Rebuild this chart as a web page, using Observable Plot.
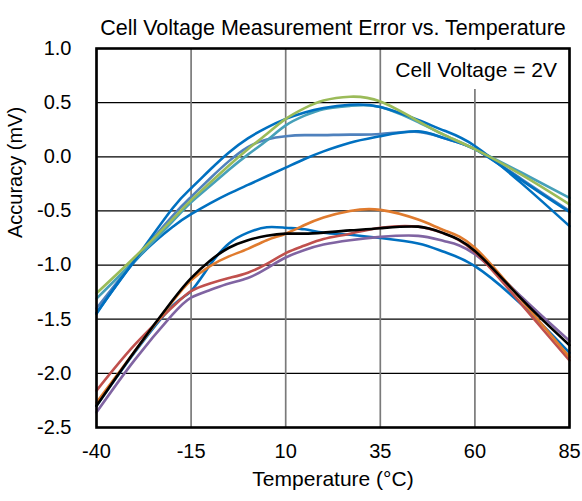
<!DOCTYPE html>
<html>
<head>
<meta charset="utf-8">
<script src="https://cdn.jsdelivr.net/npm/d3@7"></script>
<script src="https://cdn.jsdelivr.net/npm/@observablehq/plot@0.6"></script>
<style>
  body { margin: 0; background: #fff; font-family: "Liberation Sans", Arial, sans-serif; }
  #wrap { position: relative; width: 582px; height: 501px; }
  #note {
    position: absolute; left: 384px; top: 50px; width: 173px; height: 39px;
    padding-right: 10px; background: #fff; text-align: right;
    font-size: 21px; line-height: 39px; color: #000; white-space: nowrap;
  }
</style>
</head>
<body>
<div id="wrap"><div id="note">Cell Voltage = 2V</div></div>
<script>
// Sample temperatures (°C) shared by every curve
const temps = [-40, -30, -20, -15, -10, -5, 0, 5, 10, 15, 20, 27, 35, 45, 52, 60, 72.5, 85];

// Measurement error (mV) per unit — upper group
const unit1 = [-1.40, -0.96, -0.55, -0.37, -0.20, -0.04, 0.09, 0.16, 0.19, 0.20, 0.20, 0.205, 0.21, 0.23, 0.17, 0.07, -0.21, -0.50];
const unit2 = [-1.45, -0.97, -0.65, -0.53, -0.43, -0.34, -0.26, -0.18, -0.10, -0.02, 0.05, 0.13, 0.19, 0.235, 0.17, 0.07, -0.22, -0.51];
const unit3 = [-1.31, -0.96, -0.60, -0.42, -0.27, -0.12, 0.02, 0.15, 0.29, 0.38, 0.44, 0.47, 0.46, 0.32, 0.20, 0.07, -0.15, -0.38];
const unit4 = [-1.44, -0.96, -0.48, -0.29, -0.12, 0.04, 0.17, 0.27, 0.35, 0.41, 0.45, 0.48, 0.46, 0.34, 0.24, 0.10, -0.25, -0.64];
const unit5 = [-1.26, -0.93, -0.58, -0.40, -0.24, -0.08, 0.07, 0.21, 0.35, 0.45, 0.52, 0.555, 0.51, 0.33, 0.20, 0.07, -0.17, -0.44];
// lower group
const unit6 = [-2.30, -1.81, -1.38, -1.24, -1.00, -0.80, -0.70, -0.65, -0.655, -0.67, -0.70, -0.72, -0.75, -0.80, -0.88, -1.01, -1.37, -1.81];
const unit7 = [-2.36, -1.88, -1.46, -1.30, -1.23, -1.17, -1.12, -1.03, -0.93, -0.86, -0.81, -0.77, -0.74, -0.73, -0.78, -0.90, -1.30, -1.70];
const unit8 = [-2.16, -1.74, -1.39, -1.24, -1.17, -1.12, -1.07, -0.99, -0.89, -0.82, -0.76, -0.71, -0.655, -0.645, -0.71, -0.88, -1.37, -1.88];
const unit9 = [-2.27, -1.80, -1.34, -1.14, -1.01, -0.92, -0.85, -0.77, -0.71, -0.63, -0.56, -0.50, -0.49, -0.58, -0.68, -0.84, -1.33, -1.85];
const unit10 = [-2.30, -1.80, -1.33, -1.12, -0.96, -0.84, -0.77, -0.73, -0.71, -0.71, -0.70, -0.68, -0.66, -0.645, -0.71, -0.87, -1.32, -1.74];

// Drawing order: later entries sit on top
const seriesNames = ["Unit 1", "Unit 2", "Unit 3", "Unit 4", "Unit 5", "Unit 6", "Unit 7", "Unit 8", "Unit 9", "Unit 10"];
const seriesValues = [unit1, unit2, unit3, unit4, unit5, unit6, unit7, unit8, unit9, unit10];
const seriesColors = ["#4F81BD", "#0070C0", "#46A0B9", "#0070C0", "#9BBB59", "#0070C0", "#8064A2", "#C0504D", "#E07B2E", "#000000"];

const xTicks = [-40, -15, 10, 35, 60, 85];
const yTicks = [-2.5, -2.0, -1.5, -1.0, -0.5, 0.0, 0.5, 1.0];

const titleText = "Cell Voltage Measurement Error vs. Temperature";
const xLabel = "Temperature (°C)";
const yLabel = "Accuracy (mV)";

const rows = seriesNames.flatMap((name, s) =>
  temps.map((t, i) => ({series: name, temp: t, error: seriesValues[s][i]}))
);

const font = "'Liberation Sans', Arial, sans-serif";

const chart = Plot.plot({
  width: 582,
  height: 501,
  marginLeft: 96,
  marginRight: 13,
  marginTop: 48,
  marginBottom: 74,
  style: {fontFamily: font, fontSize: "20px", color: "#000", background: "#fff"},
  x: {domain: [-40, 85], ticks: xTicks, tickSize: 0, tickPadding: 16, tickFormat: d => String(d), label: null},
  y: {domain: [-2.5, 1.0], ticks: yTicks, tickSize: 0, tickPadding: 25, tickFormat: d => d.toFixed(1), label: null},
  color: {domain: seriesNames, range: seriesColors},
  marks: [
    Plot.ruleY(yTicks, {stroke: "#000", strokeWidth: 1.2}),
    Plot.ruleX(xTicks, {stroke: "#7a7a7a", strokeWidth: 1.7}),
    Plot.line(rows, {x: "temp", y: "error", z: "series", stroke: "series", strokeWidth: 2.6, curve: "natural"}),
    Plot.frame({stroke: "#000", strokeWidth: 2.6}),
    Plot.text([titleText], {text: d => d, frameAnchor: "top", dy: -29, fontSize: 21.5}),
    Plot.text([xLabel], {text: d => d, frameAnchor: "bottom", dy: 58, fontSize: 21}),
    Plot.text([yLabel], {text: d => d, frameAnchor: "left", dx: -81, rotate: -90, fontSize: 20})
  ]
});

document.getElementById("wrap").prepend(chart);
</script>
</body>
</html>
